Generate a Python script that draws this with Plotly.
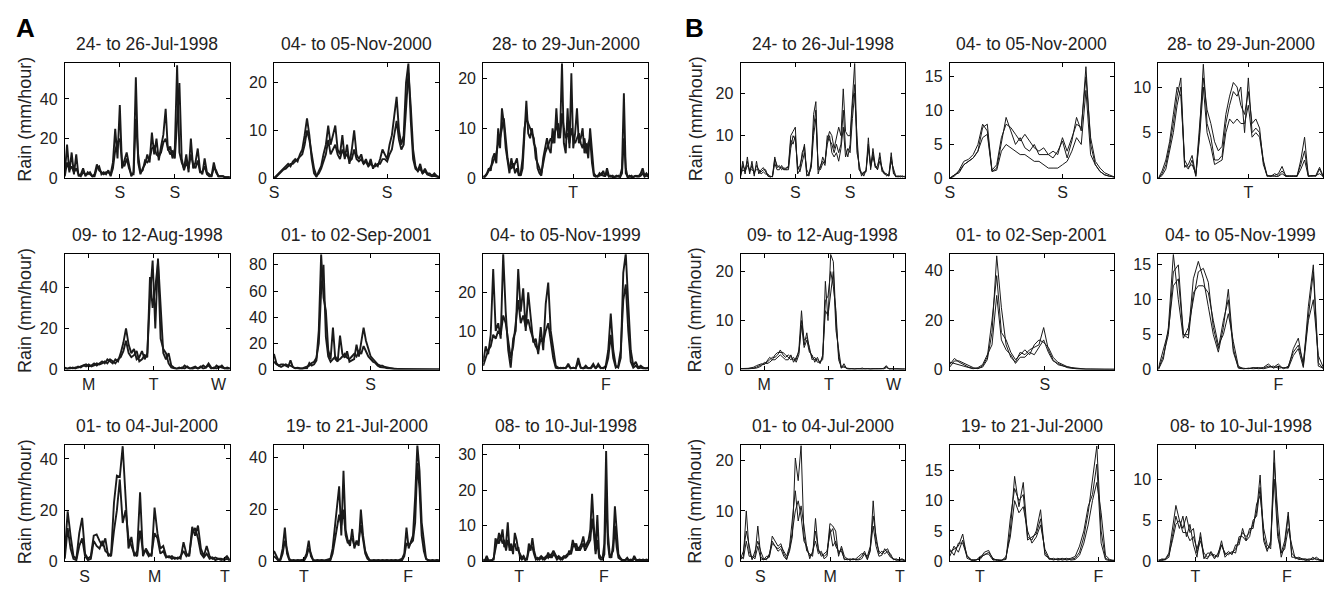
import plotly.graph_objects as go

# ---------------------------------------------------------------------------
# Events (same nine storms in panel A = radar, panel B = model ensemble)
# ---------------------------------------------------------------------------
TITLES = ["24- to 26-Jul-1998", "04- to 05-Nov-2000", "28- to 29-Jun-2000",
          "09- to 12-Aug-1998", "01- to 02-Sep-2001", "04- to 05-Nov-1999",
          "01- to 04-Jul-2000", "19- to 21-Jul-2000", "08- to 10-Jul-1998"]
DAY_LABELS = [["S", "S"], ["S", "S"], ["T"], ["M", "T", "W"], ["S"], ["F"],
              ["S", "M", "T"], ["T", "F"], ["T", "F"]]

# window length (hours) and hour of each day tick
A_SPAN = [72, 35, 44, 61, 41, 32.3, 56.5, 38, 46.8]
A_TICKS = [[24, 48], [0, 24], [24], [8.8, 32.8, 56.8], [24], [24],
           [6.8, 30.8, 54.8], [6.9, 30.9], [10.2, 34.2]]
B_SPAN = [72, 35, 44, 61, 41.5, 33, 56.5, 33.3, 43.3]
B_TICKS = [[24, 48], [0, 24], [24], [8.8, 32.8, 56.8], [24], [24],
           [6.8, 30.8, 54.8], [6.1, 30.1], [9.75, 33.75]]

A_YMAX = [58, 24, 23, 56, 88, 29.8, 45.3, 44.8, 32.6]
A_YSTEP = [20, 10, 10, 20, 20, 10, 20, 20, 10]
B_YMAX = [27, 17, 12.6, 23.5, 46.6, 16.5, 23, 19.1, 14.1]
B_YSTEP = [10, 5, 5, 10, 20, 5, 10, 5, 5]

# ---------------------------------------------------------------------------
# Panel A: rain rate (mm/hour), samples evenly spread over each window
# ---------------------------------------------------------------------------
A1_M1 = [2, 17, 3, 13, 2, 12, 1, 2, 5, 1, 3, 2, 1, 2, 7, 4, 3, 2, 3, 3, 2, 8, 25, 10, 37, 5, 9, 13, 7, 1,
         3, 51, 8, 2, 5, 7, 12, 8, 23, 12, 20, 9, 16, 22, 35, 14, 16, 10, 15, 57, 13, 8, 5, 12, 3, 20, 5, 8, 15, 4,
         2, 10, 3, 2, 1, 8, 3, 1, 1, 1, 0.5, 0.5, 0.5]
A1_M2 = [1, 8, 4, 6, 3, 5, 2, 1, 3, 2, 2, 3, 1, 1, 5, 6, 2, 3, 2, 4, 1, 5, 14, 18, 20, 8, 6, 10, 5, 2,
         2, 30, 12, 3, 4, 9, 8, 10, 15, 16, 12, 11, 13, 18, 20, 15, 12, 14, 10, 30, 48, 10, 4, 8, 5, 12, 7, 5, 9, 3,
         3, 6, 2, 1, 1, 5, 4, 1, 1, 1, 0.5, 0.5, 0.5]

A2_M1 = [0, 0.5, 1, 1.5, 2, 2.5, 3, 2.5, 3.5, 4, 3.5, 5, 6, 9, 12.5, 9, 4, 1, 0.3, 1.5, 2.5, 5, 7, 11, 7,
         9, 11, 6, 5, 9, 4, 7, 3, 6, 10, 5, 4, 5, 3, 4, 2.5, 4, 2, 3, 2.5, 4, 6, 5, 4, 7,
         9, 13, 17, 10, 7, 9, 20, 24, 12, 4, 2, 1.5, 3, 1, 2, 1, 1, 0.5, 1, 0.5, 0.3]
A2_M2 = [0, 0.3, 0.8, 1.2, 1.8, 2, 2.5, 3, 3, 3.5, 4, 4.5, 5, 7, 10, 8, 5, 2, 0.5, 1, 2, 3.5, 5, 8, 5,
         6, 7, 5, 4, 6, 4.5, 5, 3.5, 4, 6, 4, 3.5, 4, 3, 3.5, 2.5, 3, 2.5, 2.5, 3, 3, 4, 4, 3.5, 5,
         6, 9, 12, 8, 6, 7, 14, 22, 15, 6, 2.5, 1.5, 2, 1, 1.5, 0.8, 0.6, 0.4, 0.5, 0.3, 0.2]

A3_M1 = [0.3, 0.5, 1, 2, 1.5, 4, 5, 3, 10, 6, 14, 11, 6, 3, 1, 4, 2, 3, 4, 1, 0.5, 2, 8, 15.5, 9, 8, 10, 7, 6, 2,
         1, 0.5, 4, 6, 8, 6, 5, 10, 7, 14, 8, 9, 23, 7, 5, 14, 6, 21, 6, 9, 14, 7, 8, 10, 5, 7, 4, 10, 5, 1,
         0.5, 0.3, 1, 0.5, 1.5, 0.3, 2, 0.5, 0.3, 0.5, 0.2, 0.5, 0.3, 0.5, 2, 17, 1, 0.3, 0.5, 0.2,
         0.3, 0.5, 0.3, 0.5, 1, 2, 0.5, 1, 0.5]
A3_M2 = [0.2, 0.3, 0.8, 1.5, 2.5, 3, 4, 5, 7, 8, 10, 12, 8, 4, 2, 2, 3, 1, 2, 0.5, 1, 4, 10, 12, 11, 10, 9, 8, 4, 3,
         2, 1, 3, 5, 6, 7, 8, 7, 9, 10, 11, 8, 13, 10, 8, 9, 7, 10, 8, 7, 8, 9, 7, 6, 8, 5, 7, 8, 3, 0.5,
         0.3, 0.5, 0.5, 1, 0.5, 0.5, 1, 0.3, 0.5, 0.2, 0.3, 0.3, 0.5, 0.2, 1, 8, 2, 0.2, 0.3, 0.5,
         0.2, 0.3, 0.5, 0.3, 0.5, 1, 0.3, 0.5, 0.3]

A4_M1 = [1, 0.5, 1, 0.5, 1, 1, 1.5, 2, 2.5, 1.5, 2, 3, 2, 3, 4, 3, 5, 4, 3, 5, 4, 8, 13, 20, 12, 8, 10, 5, 6, 9,
         5, 8, 35, 53, 20, 54, 31, 8, 5, 8, 2, 1, 0.5, 1, 0.5, 2, 1, 0.5, 1, 1.5, 0.5, 1, 2, 1, 3, 1, 0.5, 2, 1, 2,
         0.5, 1, 0.5]
A4_M2 = [0.5, 0.3, 0.5, 1, 0.5, 1.5, 1, 2, 1.5, 2.5, 1.5, 2, 3, 2.5, 3, 4, 3, 5, 4, 3, 5, 6, 9, 14, 8, 6, 7, 9, 4, 5,
         7, 6, 45, 30, 40, 52, 15, 10, 8, 3, 1, 0.5, 0.3, 0.5, 1, 0.5, 1.5, 0.5, 0.3, 1, 0.5, 1.5, 0.5, 1, 2, 0.5, 1,
         0.5, 1.5, 1, 0.5, 0.3, 0.5]

A5_M1 = [12, 5, 3, 4, 4, 3, 2, 7, 2, 1, 1.5, 1, 0.5, 1, 1, 5, 3, 4, 7, 30, 88, 55, 45, 15, 8, 32, 8, 6, 26, 12,
         9, 14, 6, 7, 8, 19, 10, 21, 32, 22, 15, 10, 8, 6, 4, 3, 3, 2, 1.5, 1, 1, 0.5, 0.5, 0.5, 0.3, 0.5, 0.3,
         0.3, 0.5, 0.3, 0.3, 0.3, 0.2, 0.3, 0.2, 0.3, 0.2, 0.2, 0.3, 0.2, 0.2]
A5_M2 = [6, 4, 3, 2, 3, 4, 3, 3, 2, 1, 1, 0.5, 1, 1.5, 2, 3, 5, 6, 9, 20, 60, 80, 25, 10, 6, 8, 10, 7, 8, 10,
         12, 9, 8, 10, 12, 10, 14, 12, 18, 14, 10, 8, 6, 5, 3, 2, 2, 1.5, 1, 0.8, 0.6, 0.5, 0.4, 0.3, 0.3, 0.2,
         0.3, 0.2, 0.2, 0.3, 0.2, 0.2, 0.2, 0.1, 0.2, 0.1, 0.2, 0.1, 0.1, 0.2, 0.1]

A6_M1 = [2, 6, 4, 9, 26, 10, 12, 8, 30, 15, 5, 0.5, 8, 10, 26, 15, 21, 10, 20, 13, 7, 8, 4, 11, 5, 17, 22.5, 10, 5, 1,
         0.5, 0.3, 0.5, 0.3, 1.5, 0.3, 0.5, 0.3, 3, 0.5, 0.3, 1, 0.3, 0.5, 1.5, 0.3, 1.5, 0.5, 0.3, 1,
         5, 14.5, 5, 1, 0.5, 3, 25, 30, 17, 5, 1, 2, 0.5, 1, 0.5, 0.3, 0.5]
A6_M2 = [1, 3, 5, 6, 9, 8, 10, 9, 14, 12, 8, 3, 6, 12, 18, 12, 14, 11, 13, 10, 8, 6, 5, 8, 7, 10, 12, 7, 3, 0.5,
         0.3, 0.5, 0.3, 0.5, 1, 0.3, 0.5, 0.3, 2, 0.5, 0.3, 0.5, 0.3, 0.3, 1, 0.3, 1, 0.3, 0.5, 0.5,
         3, 9, 3, 0.5, 1, 5, 18, 22, 10, 2, 0.5, 1, 0.3, 0.5, 0.3, 0.2, 0.3]

A7_M1 = [3, 19.5, 10, 2, 1, 11, 17, 3, 1, 2, 10, 10.5, 8, 6, 9, 2, 3, 23, 33.5, 33, 45, 25, 5, 9.5, 2, 4, 27, 2, 5, 3,
         2, 21, 11, 5, 6, 2, 1.5, 2, 1, 1.5, 1, 7.5, 3, 2, 13.5, 10, 14, 5, 2, 6, 2, 1, 1.5, 1, 0.5, 1, 2, 0.5]
A7_M2 = [1, 13, 5, 1, 0.5, 6, 9, 2, 0.5, 1, 8, 6, 5, 8, 4, 3, 2, 12, 20, 32, 15, 20, 9, 6, 3, 2, 12, 4, 4, 2,
         3, 11, 9, 3, 4, 1.5, 2, 1, 1.5, 1, 2, 4, 2, 3, 11, 13, 9, 3, 1.5, 3, 1, 1.5, 0.5, 1, 1, 0.5, 1, 0.3]

A8_M1 = [4, 2, 0.5, 1, 5, 13, 3, 0.5, 0.3, 0.5, 0.3, 0.5, 0.3, 0.5, 1, 3, 8, 2, 0.5, 0.3,
         0.5, 0.3, 0.5, 0.3, 0.5, 0.5, 1, 5, 13, 20, 29, 10, 35, 12, 8, 6, 12.5, 5, 8, 6,
         20, 10, 4, 2, 0.5, 0.3, 0.5, 0.3, 0.5, 0.3, 0.5, 0.3, 0.5, 0.3, 0.5, 0.3, 0.5, 0.3, 0.5, 1,
         3, 13, 5, 8, 10, 25, 45, 35, 15, 8, 1, 0.5, 0.3, 0.5, 0.3, 0.5, 0.3]
A8_M2 = [2, 1, 0.3, 0.5, 3, 8, 4, 1, 0.3, 0.2, 0.3, 0.2, 0.3, 0.3, 0.5, 2, 5, 3, 0.5, 0.2,
         0.3, 0.2, 0.3, 0.2, 0.3, 0.3, 0.5, 3, 8, 12, 18, 14, 20, 10, 7, 8, 9, 6, 7, 8,
         14, 8, 3, 1, 0.3, 0.2, 0.3, 0.2, 0.3, 0.2, 0.3, 0.2, 0.3, 0.2, 0.3, 0.2, 0.3, 0.2, 0.3, 0.5,
         2, 7, 6, 7, 8, 15, 38, 28, 10, 4, 1, 0.3, 0.2, 0.3, 0.2, 0.3, 0.2]

A9_M1 = [0.5, 0.3, 1.5, 0.3, 0.2, 0.3, 0.5, 6.5, 5, 8, 6, 9, 4, 5, 11, 3, 5, 2, 8, 6,
         3, 2, 1, 1.5, 0.5, 0.5, 5, 3, 6.5, 3, 1, 0.5, 1, 1.5, 1, 0.5, 1, 2.5, 1, 2,
         3, 2, 1, 1.5, 1, 0.5, 1, 1.5, 2, 2, 3, 6, 4, 5, 3, 4, 5, 7, 4, 5,
         6, 9, 19, 10, 3, 13, 2, 1, 1, 5, 31, 8, 2, 1, 5, 15.5, 8, 2, 1, 0.5,
         0.3, 0.5, 1, 0.3, 0.5, 0.3, 1.5, 0.5, 0.3, 0.5, 0.3, 0.5, 0.3, 0.5, 0.3]
A9_M2 = [0.3, 0.2, 0.5, 0.2, 0.3, 0.2, 1, 4, 6, 5, 7, 5, 6, 3, 6, 4, 3, 4, 5, 3,
         4, 1, 0.5, 1, 0.3, 1, 3, 4, 4, 2, 0.5, 1, 0.5, 1, 0.5, 1, 1.5, 1, 2, 1,
         2, 1.5, 0.5, 1, 0.5, 1, 1.5, 1, 1.5, 3, 2, 4, 5, 3, 4, 3, 4, 5, 3, 4,
         5, 6, 12, 8, 2, 6, 1, 0.5, 0.5, 2, 20, 5, 1, 2, 3, 10, 4, 1, 0.5, 0.3,
         0.2, 0.3, 0.5, 0.2, 0.3, 0.2, 0.8, 0.3, 0.2, 0.3, 0.2, 0.3, 0.2, 0.3, 0.2]

# ---------------------------------------------------------------------------
# Panel B: hourly rain rate (mm/hour), three ensemble members per event
# ---------------------------------------------------------------------------
B1_M1 = [0.5, 4, 1, 5, 1, 4, 0.5, 4, 1, 2, 2.5, 1.5, 0.5, 0.3, 0.5, 5, 2.5, 3, 2, 2.5, 2, 3, 10, 11, 12, 1, 2, 6, 7.5, 0.5,
         1, 3, 15, 18, 1, 3, 4, 3, 9, 11, 10, 7, 10, 12, 10, 21, 11, 10, 10, 19, 27, 8, 2, 1, 1, 2, 9.5, 2, 7, 3,
         2, 6, 2, 1, 1, 0.5, 6, 1, 0.5, 0.5, 0.3, 0.5, 0.3]
B1_M2 = [0.3, 3, 2, 4, 1.5, 3, 1, 3, 2, 1.5, 2, 2, 0.5, 0.5, 0.3, 4.5, 3, 2.5, 2.5, 2, 2.5, 2.5, 9, 8, 10, 2, 3, 5, 8, 1,
         0.5, 4, 12, 16, 2, 2.5, 5, 3.5, 10, 9, 8, 6, 8, 6, 8, 16, 7, 5, 8, 17, 22, 6, 3, 0.5, 1.5, 1.5, 8, 3, 6, 2.5,
         3, 5, 1.5, 1.5, 0.5, 1, 5, 1.5, 0.3, 0.5, 0.5, 0.3, 0.5]
B1_M3 = [1, 2, 1.5, 3, 2, 2, 1.5, 2, 2, 1, 1.5, 1, 1, 0.3, 0.5, 3.5, 2, 2, 3, 2, 2, 2, 7, 10, 9, 3, 1.5, 4, 6, 2,
         1, 2.5, 10, 14, 3, 2, 3.5, 4, 8, 10, 6, 5, 6, 4, 7, 12, 5, 7, 6, 14, 20, 10, 2, 1.5, 0.5, 2, 7, 2.5, 5, 3,
         2, 4, 2.5, 1, 1, 0.5, 4, 2, 0.5, 0.3, 0.5, 0.5, 0.3]

B2_M1 = [0, 0.5, 1, 2, 2.5, 3, 4, 7.5, 8, 1, 1.5, 5, 9, 7, 5, 6, 4.5, 4, 5, 3.5,
         3.5, 3.5, 3, 4, 5.5, 3, 5.5, 9, 7, 16.5, 5, 2, 1, 0.5, 0.3, 0.2]
B2_M2 = [0, 0.3, 1.2, 2.5, 2.8, 3.5, 5, 8, 7, 1.2, 2, 6, 8, 7.5, 6.5, 5.5, 6.5, 5.5, 4.5, 4,
         4.5, 3.5, 4, 3.5, 6, 4, 6, 8, 7.5, 15, 6, 2.5, 1.5, 0.8, 0.5, 0.2]
B2_M3 = [0, 0.5, 0.8, 2, 2.5, 3, 4, 6, 6.5, 1, 1.2, 4, 5, 4.5, 4, 3.5, 3.5, 3, 2.5, 2.5,
         2, 1.5, 1.5, 1.5, 2, 2.5, 4, 6, 5, 13, 3.5, 2, 1, 0.5, 0.3, 0.2]

B3_M1 = [0, 0.5, 1.5, 3.5, 6, 9, 11, 1.5, 1, 2, 0.2, 5, 12.5, 6, 4.5, 2, 2, 2.5, 6, 8,
         9.5, 9, 10, 5, 11, 5, 5.5, 5, 2, 0.3, 0.2, 0.3, 0.5, 1.3, 0.2, 0.2, 0.3, 0.2, 2, 4.5,
         0.2, 0.3, 0.2, 1, 0.1]
B3_M2 = [0, 0.8, 2, 4, 7, 10, 9, 2, 1.2, 1.5, 0.5, 6, 11, 7.5, 6, 4, 3, 3.5, 7, 9,
         10.5, 10, 8, 7, 9.5, 6, 6.5, 5.5, 1.5, 0.3, 0.2, 0.5, 0.3, 0.8, 0.3, 0.2, 0.2, 0.3, 1.5, 3,
         0.3, 0.2, 0.3, 0.5, 0.2]
B3_M3 = [0, 0.3, 1, 3, 5, 8, 10, 1.2, 1.5, 2.5, 0.3, 4.5, 10, 5, 3.5, 1.5, 1.8, 2, 5, 6.5,
         6, 6.5, 6, 6, 8, 4.5, 5, 4.5, 1.8, 0.2, 0.3, 0.2, 0.2, 0.5, 0.2, 0.3, 0.2, 0.2, 1, 2,
         0.2, 0.3, 0.3, 1.2, 0.2]

B4_M1 = [0.2, 0.2, 0.2, 0.2, 0.2, 0.3, 0.5, 0.8, 1, 1.2, 1.5, 2, 2.5, 2.5, 3, 4, 3, 2.5, 3, 2.5,
         2, 2, 4, 12, 5, 7.5, 4, 2.5, 2, 2, 1.5, 2.5, 18, 10, 23.5, 22, 10, 3, 0.3, 1.2,
         0.2, 0.1, 0.1, 0.2, 0.1, 0.2, 0.3, 0.1, 0.2, 0.1, 0.2, 0.1, 0.2, 0.1, 0.3, 0.8, 0.1, 0.2, 0.1, 0.1,
         0.2, 0.1, 0.1]
B4_M2 = [0.1, 0.2, 0.1, 0.2, 0.3, 0.5, 0.8, 1, 1.2, 1, 1.8, 2.5, 2, 3, 3.5, 3.5, 3.5, 3, 2.5, 2,
         2.5, 1.5, 3, 10, 6, 6.5, 4.5, 2, 2.5, 1.5, 1.5, 2, 14, 15, 20, 17, 12, 2, 0.5, 0.5,
         0.3, 0.2, 0.1, 0.1, 0.2, 0.1, 0.1, 0.2, 0.1, 0.1, 0.1, 0.2, 0.1, 0.2, 0.1, 0.4, 0.2, 0.1, 0.1, 0.2,
         0.1, 0.1, 0.1]
B4_M3 = [0.2, 0.1, 0.2, 0.1, 0.2, 0.2, 0.3, 0.5, 0.8, 1.5, 1.2, 1.5, 2, 2, 2.5, 3, 2.5, 2, 2, 3,
         1.5, 2.5, 3.5, 9, 4.5, 6, 3.5, 3, 1.5, 2.5, 1.2, 3, 12, 11, 16, 20, 8, 4, 0.3, 0.8,
         0.2, 0.1, 0.2, 0.1, 0.1, 0.2, 0.1, 0.1, 0.1, 0.2, 0.1, 0.1, 0.1, 0.1, 0.2, 0.6, 0.1, 0.1, 0.2, 0.1,
         0.1, 0.2, 0.1]

B5_M1 = [2, 4.5, 3, 2, 1, 0.5, 0.5, 1, 4, 15, 46, 25, 10, 5, 3, 7, 6, 8, 9, 10,
         17, 8, 4, 2, 1.5, 1, 0.5, 0.3, 0.2, 0.2, 0.1, 0.1, 0.1, 0.1, 0.1, 0.1]
B5_M2 = [1, 3.5, 3.5, 2.5, 1.5, 0.8, 0.3, 1.5, 5, 20, 38, 15, 12, 7, 4, 6, 8, 6, 10, 12,
         11, 9, 5, 3, 2, 1.2, 0.8, 0.5, 0.3, 0.2, 0.2, 0.1, 0.1, 0.1, 0.1, 0.1]
B5_M3 = [3, 2.5, 2, 1.5, 0.8, 0.3, 0.8, 2, 6, 10, 30, 12, 8, 6, 2.5, 5, 5, 7, 6, 9,
         12, 7, 3.5, 2.5, 1.5, 0.8, 0.5, 0.2, 0.2, 0.1, 0.1, 0.1, 0.1, 0.1, 0.1, 0.1]

B6_M1 = [0, 2, 5, 14, 15, 5, 5, 13, 15.5, 13, 9, 5, 2.5, 6, 11.5, 3, 0.2, 0.1, 0.2, 0.1,
         0.2, 0.3, 0.8, 0.2, 0.5, 0.2, 0.3, 3, 4.5, 0.5, 9, 15, 1, 0.1]
B6_M2 = [0, 1.5, 6, 16.5, 10, 4.5, 6, 10, 14, 14.5, 12.5, 6, 3, 7, 10, 2.5, 0.3, 0.2, 0.1, 0.3,
         0.1, 0.2, 0.5, 0.3, 0.8, 0.1, 0.5, 2.5, 3.5, 1, 8, 14, 0.5, 0.2]
B6_M3 = [0.2, 3, 5.5, 12, 13, 5, 4.5, 11, 12, 12, 11, 7, 3.5, 5, 8, 4, 0.5, 0.1, 0.2, 0.2,
         0.3, 0.1, 0.3, 0.5, 0.2, 0.3, 0.2, 2, 3, 0.3, 7, 10, 2, 0.3]

B7_M1 = [0.3, 1, 10, 2, 0.5, 1, 7, 1, 0.3, 0.5, 0.8, 5, 4, 3, 3.5, 1.5, 0.5, 2, 5, 20.5,
         16, 23, 5, 2, 1.5, 1, 8.5, 2, 1.5, 1, 1.5, 7.5, 7, 6, 1, 3, 1, 0.5, 0.3, 0.5,
         0.3, 0.5, 1, 2, 0.5, 2, 12, 4, 2, 1.5, 2, 2.5, 1, 0.5, 0.3, 0.3, 0.5, 0.2]
B7_M2 = [0.5, 2, 6, 3, 0.3, 2, 4, 2, 0.5, 0.3, 1.5, 4, 3, 2.5, 3, 2, 1, 3, 8, 14,
         8, 11, 7, 2.5, 1, 1.5, 6, 2.5, 1, 1.5, 2, 5.5, 6.5, 3, 2, 2, 0.5, 0.3, 0.5, 0.3,
         0.5, 1, 1.5, 1.5, 1, 3, 9, 5, 1.5, 2, 1.5, 2, 1.5, 0.3, 0.5, 0.2, 0.3, 0.2]
B7_M3 = [1, 0.5, 4, 1, 1, 0.5, 3, 0.5, 0.3, 1, 1, 3.5, 3, 2, 2.5, 1, 0.3, 2.5, 6, 10,
         12, 9, 4, 3, 0.5, 2, 4, 1.5, 2, 0.5, 1, 6.5, 3, 4, 1.5, 2.5, 0.3, 0.5, 0.2, 0.5,
         0.3, 0.3, 0.5, 1.5, 0.3, 2.5, 7, 3, 1, 1.2, 2.5, 1.5, 0.8, 0.5, 0.2, 0.3, 0.3, 0.1]

B8_M1 = [1.5, 2, 2.5, 4.5, 0.5, 0.2, 0.2, 0.5, 1.5, 1.8, 0.3, 0.2, 0.2, 0.5, 5, 14, 9, 13, 4, 3.5,
         5, 8.5, 1, 0.5, 0.3, 0.3, 0.5, 0.2, 0.3, 0.5, 1.5, 4, 8, 14, 19, 5, 0.5, 0.2, 0.1]
B8_M2 = [2, 1, 3, 3, 0.8, 0.3, 0.1, 0.8, 1, 1.5, 0.5, 0.1, 0.2, 0.3, 7, 12, 10, 11, 3.5, 4,
         4.5, 7, 1.5, 0.3, 0.5, 0.2, 0.3, 0.5, 0.2, 0.3, 1, 3, 6, 10, 13, 8, 1, 0.3, 0.1]
B8_M3 = [0.8, 2.5, 1.5, 3.5, 1, 0.1, 0.3, 0.3, 1.2, 1.2, 0.2, 0.3, 0.1, 0.8, 4, 10, 8, 9, 5, 3,
         4, 6, 2, 0.5, 0.2, 0.5, 0.2, 0.3, 0.5, 0.8, 2.5, 5, 9, 11, 16, 3, 0.3, 0.1, 0.2]

B9_M1 = [0, 0.3, 0.2, 0.5, 3, 5.5, 4, 5.5, 3, 4.5, 2, 0.5, 3.5, 0.5, 0.3, 1.2, 0.5, 0.8, 2.5, 0.5,
         1, 1, 1.5, 2.5, 3.5, 3, 3.5, 4.5, 6, 10.5, 3, 1.5, 2, 13.5, 4, 0.5, 2, 5.5, 1, 0.5,
         0.3, 0.2, 0.2, 0.3, 0.2, 0.5, 0.2, 0.1]
B9_M2 = [0.1, 0.2, 0.3, 1, 4, 6.8, 5, 4, 5.5, 3.5, 4, 1, 2.5, 1, 0.5, 0.8, 0.8, 0.5, 2, 1,
         0.8, 1.2, 1, 3, 3, 2.5, 4, 4, 7, 8, 4, 2, 1.5, 12, 6, 1, 1.5, 4, 2, 0.3,
         0.5, 0.3, 0.1, 0.2, 0.3, 0.3, 0.1, 0.1]
B9_M3 = [0.2, 0.1, 0.2, 0.8, 2.5, 4.5, 5, 3.5, 3.5, 2.5, 3, 1.5, 3, 0.3, 1, 1, 0.3, 1, 2, 0.8,
         1.2, 0.8, 2, 2, 4, 2.5, 3, 5, 5.5, 9, 2.5, 1.2, 2.5, 10, 3, 1, 2.5, 6, 0.5, 0.5,
         0.2, 0.3, 0.3, 0.1, 0.5, 0.2, 0.2, 0.1]

A_SERIES = [[A1_M1, A1_M2], [A2_M1, A2_M2], [A3_M1, A3_M2], [A4_M1, A4_M2], [A5_M1, A5_M2],
            [A6_M1, A6_M2], [A7_M1, A7_M2], [A8_M1, A8_M2], [A9_M1, A9_M2]]
B_SERIES = [[B1_M1, B1_M2, B1_M3], [B2_M1, B2_M2, B2_M3], [B3_M1, B3_M2, B3_M3],
            [B4_M1, B4_M2, B4_M3], [B5_M1, B5_M2, B5_M3], [B6_M1, B6_M2, B6_M3],
            [B7_M1, B7_M2, B7_M3], [B8_M1, B8_M2, B8_M3], [B9_M1, B9_M2, B9_M3]]

# ---------------------------------------------------------------------------
# layout (pixel boxes of the 3x3 grids)
# ---------------------------------------------------------------------------
W, H = 1330, 591
COLS = {"A": [(60, 225.7), (270, 435.7), (480, 645.7)],
        "B": [(738.3, 903.3), (948.3, 1113.3), (1157.7, 1323.3)]}
ROWS = [(64.3, 181), (258.3, 375.3), (452.3, 570)]
TITLE_Y = [45, 239, 433]
YLABEL_X = {"A": 20, "B": 693}
LETTER_X = {"A": 21, "B": 692}
INK = "#1a1a1a"
FONT = "Liberation Sans, Arial, sans-serif"

fig = go.Figure()
annotations = []
axis_style = dict(showline=True, linecolor="black", linewidth=1, mirror="ticks",
                  ticks="inside", ticklen=4, tickwidth=1, tickcolor="black",
                  showgrid=False, zeroline=False,
                  tickfont=dict(family=FONT, size=16, color="#222"))

groups = [("A", A_SERIES, A_SPAN, A_TICKS, A_YMAX, A_YSTEP, 1.9),
          ("B", B_SERIES, B_SPAN, B_TICKS, B_YMAX, B_YSTEP, 1.0)]
k = 0
for g, series, spans, ticks, ymax, ystep, lw in groups:
    for p in range(9):
        k += 1
        r, c = divmod(p, 3)
        x0, x1 = COLS[g][c]
        top, bot = ROWS[r]
        xa, ya = ("x", "y") if k == 1 else (f"x{k}", f"y{k}")
        for member in series[p]:
            n = len(member)
            xs = [i * spans[p] / (n - 1) for i in range(n)]
            fig.add_trace(go.Scatter(x=xs, y=member, mode="lines",
                                     line=dict(color=INK, width=lw),
                                     xaxis=xa, yaxis=ya, hoverinfo="skip"))
        xname = "xaxis" if k == 1 else f"xaxis{k}"
        yname = "yaxis" if k == 1 else f"yaxis{k}"
        fig.update_layout({
            xname: dict(domain=[x0 / W, x1 / W], range=[0, spans[p]], anchor=ya,
                        tickvals=ticks[p], ticktext=DAY_LABELS[p], **axis_style),
            yname: dict(domain=[1 - bot / H, 1 - top / H], range=[0, ymax[p]], anchor=xa,
                        tick0=0, dtick=ystep[p], ticklabelstandoff=3, **axis_style),
        })
        annotations.append(dict(text=TITLES[p], x=(x0 + x1) / 2 / W, y=1 - TITLE_Y[r] / H,
                                xref="paper", yref="paper", showarrow=False,
                                xanchor="center", yanchor="middle",
                                font=dict(family=FONT, size=17.5, color="#222")))
    for r in range(3):
        top, bot = ROWS[r]
        annotations.append(dict(text="Rain (mm/hour)", x=YLABEL_X[g] / W, y=1 - ((top + bot) / 2 - 2) / H,
                                xref="paper", yref="paper", showarrow=False, textangle=-90,
                                xanchor="center", yanchor="middle",
                                font=dict(family=FONT, size=18, color="#222")))
    annotations.append(dict(text="<b>" + g + "</b>", x=LETTER_X[g] / W, y=1 - 28 / H,
                            xref="paper", yref="paper", showarrow=False,
                            xanchor="center", yanchor="middle",
                            font=dict(family=FONT, size=26, color="black")))

fig.update_layout(width=W, height=H, margin=dict(l=0, r=0, t=0, b=0),
                  paper_bgcolor="white", plot_bgcolor="white", showlegend=False,
                  annotations=annotations)

# the page body has a default 8px margin; drop it (and any scroll overflow)
# so the 1330x591 figure fills the window exactly
page_fix = ("document.documentElement.style.margin='0';"
            "document.documentElement.style.overflow='hidden';"
            "document.body.style.margin='0';"
            "document.body.style.overflow='hidden';")
fig.write_html("out.html", config={"displayModeBar": False}, post_script=page_fix)
